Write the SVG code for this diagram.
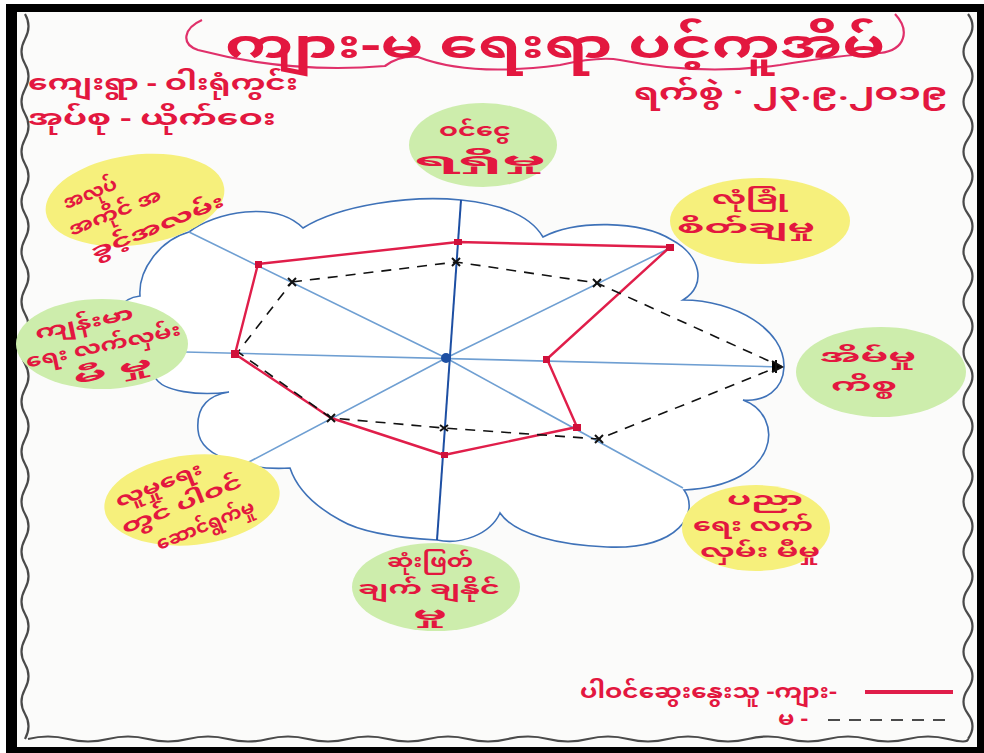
<svg xmlns="http://www.w3.org/2000/svg" width="984" height="753" viewBox="0 0 984 753">
<defs>
<style>
.t{font-family:'Noto Sans Myanmar','Padauk','Myanmar Text','Noto Sans',sans-serif;fill:#e3173f;font-weight:bold}
.c{text-anchor:middle;font-size:18px}
.g{fill:#cdedac}
.y{fill:#f6f07c}
.ax{stroke:#6f9fd2;stroke-width:1.6;fill:none}
.wv{fill:none;stroke:#4a4a4a;stroke-width:2.2}
</style>
</defs>
<rect x="0" y="0" width="984" height="753" fill="#ffffff"/>
<rect x="6" y="4" width="978" height="749" fill="#000000"/>
<rect x="17" y="12" width="960" height="735" fill="#fbfbfa"/>

<g id="border">
<path class="wv" d="M25,14 q7,12 0,25 t0,25 t0,25 t0,25 t0,25 t0,25 t0,25 t0,25 t0,25 t0,25 t0,25 t0,25 t0,25 t0,25 t0,25 t0,25 t0,25 t0,25 t0,25 t0,25 t0,25 t0,25 t0,25 t0,25 t0,25 t0,25 t0,25 t0,25 t0,25"/>
<path class="wv" d="M968,14 q9,12 0,25 t0,25 t0,25 t0,25 t0,25 t0,25 t0,25 t0,25 t0,25 t0,25 t0,25 t0,25 t0,25 t0,25 t0,25 t0,25 t0,25 t0,25 t0,25 t0,25 t0,25 t0,25 t0,25 t0,25 t0,25 t0,25 t0,25 t0,25 t0,25"/>
<path class="wv" d="M28,739 q20,-5 40,0 t40,0 t40,0 t40,0 t40,0 t40,0 t40,0 t40,0 t40,0 t40,0 t40,0 t40,0 t40,0 t40,0 t40,0 t40,0 t40,0 t40,0 t40,0 t40,0 t40,0 t40,0 t40,0 t20,0"/>
</g>

<g id="title">
<path d="M202,20 C184,28 180,44 198,50 Q290,74 385,66 Q400,55 418,57 Q470,77 560,65 Q600,56 620,60 Q700,76 780,65 Q840,55 880,53 C906,50 910,30 895,14" fill="none" stroke="#e0306a" stroke-width="2.2"/>
<text class="t" x="225" y="58" font-size="40" textLength="660" lengthAdjust="spacingAndGlyphs">ကျား-မ ရေးရာ ပင့်ကူအိမ်</text>
</g>

<g id="header">
<text class="t" x="28" y="90" font-size="21" textLength="270" lengthAdjust="spacingAndGlyphs">ကျေးရွာ - ဝါးရုံကွင်း</text>
<text class="t" x="28" y="125" font-size="21" textLength="248" lengthAdjust="spacingAndGlyphs">အုပ်စု - ယိုက်ဝေး</text>
<text class="t" x="634" y="100" font-size="24" textLength="314" lengthAdjust="spacingAndGlyphs">ရက်စွဲ · ၂၃.၉.၂၀၁၉</text>
</g>

<g id="web">
<path id="cloud" d="M140,296 C138,270 160,240 189,232 C215,212 275,200 303,228 C340,205 410,195 461,200 C500,204 530,215 543,237 C575,220 640,220 672,240 C700,255 708,285 683,300 C735,300 785,330 784,367 C783,390 765,402 743,400 C785,415 782,485 684,490 C700,512 680,550 607,547 C560,545 515,535 500,513 C490,535 460,545 437,540 C400,538 360,532 340,520 C318,508 298,492 290,468 C260,470 200,462 198,430 C196,405 210,395 229,392 C200,396 162,392 155,377 C100,370 100,300 140,296 Z" fill="#ffffff" stroke="#3f72b8" stroke-width="1.6"/>
<line class="ax" x1="185" y1="352" x2="782" y2="367"/>
<polyline class="ax" points="189,232 446,358 683,488"/>
<polyline class="ax" points="672,247 446,358 247,463"/>
<line x1="461" y1="200" x2="437" y2="540" stroke="#1d4fa3" stroke-width="2"/>
<circle cx="446" cy="358" r="5" fill="#1d4fa3"/>
</g>

<g id="connectors">
<polygon id="male" points="258,264 458,242 670,247 547,359 577,427 444,455 331,418 235,354" fill="none" stroke="#e01e4a" stroke-width="2.4" stroke-linejoin="round"/>
<polygon id="female" points="292,282 456,262 597,283 780,366 599,439 444,428 331,418 238,352" fill="none" stroke="#111111" stroke-width="1.6" stroke-dasharray="10 8"/>
<g fill="#d0103a">
<rect x="255" y="261" width="7" height="7"/><rect x="454" y="239" width="8" height="6"/><rect x="666" y="244" width="8" height="7"/><rect x="543" y="356" width="7" height="7"/><rect x="573" y="424" width="8" height="7"/><rect x="441" y="452" width="7" height="6"/><rect x="231" y="350" width="8" height="8"/>
</g>
<g stroke="#111111" stroke-width="2">
<path d="M288,278 l8,8 M296,278 l-8,8"/><path d="M452,258 l8,8 M460,258 l-8,8"/><path d="M593,279 l8,8 M601,279 l-8,8"/><path d="M595,435 l8,8 M603,435 l-8,8"/><path d="M440,425 l8,6 M448,425 l-8,6"/><path d="M327,414 l8,8 M335,414 l-8,8"/>
<path d="M772,361 l10,6 l-10,5 M776,360 l0,13"/>
</g>
</g>

<g id="n-income">
<ellipse class="g" cx="483" cy="145" rx="74" ry="42"/>
<text class="t c" x="475" y="136" textLength="72" lengthAdjust="spacingAndGlyphs">ဝင်ငွေ</text>
<text class="t c" x="480" y="166" textLength="132" lengthAdjust="spacingAndGlyphs">ရရှိမှု</text>
</g>
<g id="n-employment">
<ellipse class="y" cx="135" cy="200" rx="90" ry="45" transform="rotate(-8 135 200)"/>
<g transform="translate(135,203) rotate(-22)">
<text class="t c" x="-38" y="-20" textLength="56" lengthAdjust="spacingAndGlyphs">အလုပ်</text>
<text class="t c" x="-22" y="7" textLength="98" lengthAdjust="spacingAndGlyphs">အကိုင် အ</text>
<text class="t c" x="12" y="36" textLength="142" lengthAdjust="spacingAndGlyphs">ခွင့်အလမ်း</text>
</g>
</g>
<g id="n-safety">
<ellipse class="y" cx="760" cy="221" rx="90" ry="43"/>
<text class="t c" x="750" y="204" textLength="76" lengthAdjust="spacingAndGlyphs">လုံခြုံ</text>
<text class="t c" x="746" y="233" textLength="138" lengthAdjust="spacingAndGlyphs">စိတ်ချမှု</text>
</g>
<g id="n-household">
<ellipse class="g" cx="881" cy="372" rx="85" ry="45"/>
<text class="t c" x="868" y="362" textLength="96" lengthAdjust="spacingAndGlyphs">အိမ်မှု</text>
<text class="t c" x="864" y="391" textLength="66" lengthAdjust="spacingAndGlyphs">ကိစ္စ</text>
</g>
<g id="n-health">
<ellipse class="g" cx="102" cy="344" rx="86" ry="45"/>
<g transform="translate(100,340) rotate(-12)">
<text class="t c" x="-12" y="-14" textLength="100" lengthAdjust="spacingAndGlyphs">ကျန်းမာ</text>
<text class="t c" x="2" y="12" textLength="158" lengthAdjust="spacingAndGlyphs">ရေး လက်လှမ်း</text>
<text class="t c" x="6" y="38" textLength="80" lengthAdjust="spacingAndGlyphs">မီ မှု</text>
</g>
</g>
<g id="n-social">
<ellipse class="y" cx="192" cy="500" rx="88" ry="45" transform="rotate(-6 192 500)"/>
<g transform="translate(185,502) rotate(-22)">
<text class="t c" x="-18" y="-20" textLength="92" lengthAdjust="spacingAndGlyphs">လူမှုရေး</text>
<text class="t c" x="-4" y="7" textLength="128" lengthAdjust="spacingAndGlyphs">တွင် ပါဝင်</text>
<text class="t c" x="10" y="35" textLength="104" lengthAdjust="spacingAndGlyphs">ဆောင်ရွက်မှု</text>
</g>
</g>
<g id="n-decision">
<ellipse class="g" cx="436" cy="587" rx="84" ry="44"/>
<text class="t c" x="430" y="567" textLength="86" lengthAdjust="spacingAndGlyphs">ဆုံးဖြတ်</text>
<text class="t c" x="429" y="594" textLength="142" lengthAdjust="spacingAndGlyphs">ချက် ချနိုင်</text>
<text class="t c" x="430" y="620" textLength="34" lengthAdjust="spacingAndGlyphs">မှု</text>
</g>
<g id="n-education">
<ellipse class="y" cx="756" cy="528" rx="74" ry="43"/>
<text class="t c" x="765" y="505" textLength="76" lengthAdjust="spacingAndGlyphs">ပညာ</text>
<text class="t c" x="753" y="531" textLength="120" lengthAdjust="spacingAndGlyphs">ရေး လက်</text>
<text class="t c" x="760" y="557" textLength="120" lengthAdjust="spacingAndGlyphs">လှမ်း မီမှု</text>
</g>

<g id="legend">
<text class="t" x="580" y="698" font-size="20" textLength="257" lengthAdjust="spacingAndGlyphs">ပါဝင်ဆွေးနွေးသူ -ကျား-</text>
<line x1="865" y1="692" x2="953" y2="692" stroke="#e01e4a" stroke-width="4"/>
<text class="t" x="778" y="725" font-size="20" textLength="30" lengthAdjust="spacingAndGlyphs">မ -</text>
<line x1="828" y1="720" x2="950" y2="720" stroke="#111111" stroke-width="1.6" stroke-dasharray="12 9"/>
</g>
</svg>
